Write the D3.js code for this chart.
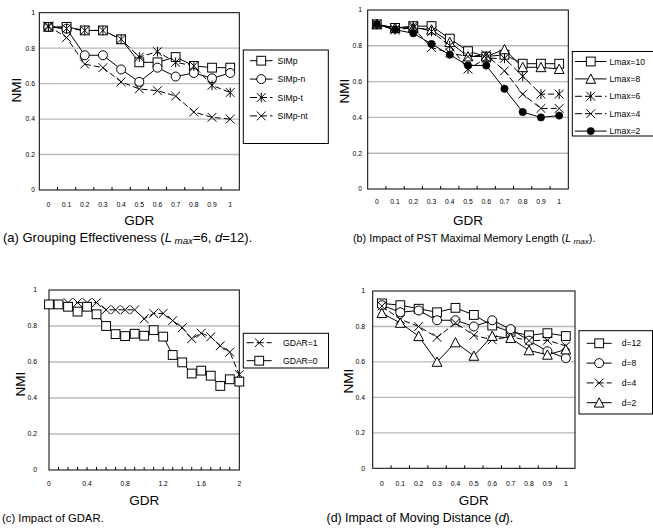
<!DOCTYPE html>
<html><head><meta charset="utf-8">
<script src="https://cdn.jsdelivr.net/npm/d3@7"></script>
<style>body{margin:0;background:#fff}svg{display:block}</style>
</head><body>
<svg id="chart" width="653" height="531"></svg>
<script>
// ---------- DATA ----------
const gdrCats = ["0","0.1","0.2","0.3","0.4","0.5","0.6","0.7","0.8","0.9","1"];
const gdrC = [0,0.1,0.2,0.3,0.4,0.5,0.6,0.7,0.8,0.9,1.0,1.1,1.2,1.3,1.4,1.5,1.6,1.7,1.8,1.9,2.0];
const gdrCTickLabels = ["0","0.4","0.8","1.2","1.6","2"];
const gdrCTickValues = [0,0.4,0.8,1.2,1.6,2];
const yTickValues = [0,0.2,0.4,0.6,0.8,1];
const yTickLabels = ["0","0.2","0.4","0.6","0.8","1"];

// (a)
const simpNames = ["SIMp","SIMp-n","SIMp-t","SIMp-nt"];
const simp   = [0.92,0.92,0.90,0.90,0.85,0.72,0.72,0.75,0.70,0.69,0.69];
const simpN  = [0.92,0.91,0.76,0.76,0.68,0.61,0.69,0.64,0.66,0.63,0.66];
const simpT  = [0.92,0.91,0.90,0.90,0.85,0.75,0.78,0.72,0.70,0.59,0.55];
const simpNT = [0.925,0.86,0.71,0.69,0.61,0.57,0.56,0.53,0.44,0.41,0.40];
// (b)
const lmaxNames = ["Lmax=10","Lmax=8","Lmax=6","Lmax=4","Lmax=2"];
const lmax10 = [0.92,0.90,0.91,0.91,0.84,0.77,0.74,0.75,0.70,0.70,0.70];
const lmax8  = [0.92,0.90,0.90,0.89,0.82,0.74,0.74,0.78,0.68,0.68,0.67];
const lmax6  = [0.92,0.89,0.91,0.88,0.80,0.67,0.73,0.73,0.63,0.53,0.53];
const lmax4  = [0.92,0.89,0.90,0.79,0.76,0.74,0.75,0.66,0.53,0.45,0.45];
const lmax2  = [0.92,0.89,0.87,0.81,0.75,0.69,0.69,0.56,0.43,0.40,0.41];
// (c)
const gdarNames = ["GDAR=1","GDAR=0"];
const gdar1 = [0.92,0.92,0.93,0.93,0.93,0.93,0.89,0.89,0.89,0.89,0.84,0.87,0.87,0.83,0.79,0.73,0.76,0.74,0.69,0.655,0.53];
const gdar0 = [0.92,0.92,0.907,0.88,0.907,0.865,0.80,0.755,0.744,0.757,0.746,0.777,0.741,0.639,0.598,0.536,0.552,0.524,0.467,0.504,0.491];
// (d)
const dNames = ["d=12","d=8","d=4","d=2"];
const d12 = [0.93,0.92,0.90,0.88,0.905,0.865,0.805,0.77,0.75,0.762,0.746];
const d8  = [0.92,0.88,0.89,0.835,0.835,0.80,0.835,0.785,0.72,0.66,0.622];
const d4  = [0.915,0.84,0.80,0.738,0.82,0.75,0.725,0.742,0.72,0.722,0.69];
const d2  = [0.875,0.82,0.745,0.60,0.71,0.634,0.746,0.734,0.665,0.64,0.67];

// ---------- DRAWING ----------
const FONT = "'Liberation Sans', Arial, Helvetica, sans-serif";
const svg = d3.select("#chart");
const DASH = "6,3";

function drawMarker(g, type, cx, cy) {
  const s = 4.4;
  if (type === "square") {
    g.append("rect").attr("x", cx - s).attr("y", cy - s).attr("width", 2*s).attr("height", 2*s)
      .attr("fill", "#fff").attr("stroke", "#000").attr("stroke-width", 1);
  } else if (type === "circle") {
    g.append("circle").attr("cx", cx).attr("cy", cy).attr("r", 4.5)
      .attr("fill", "#fff").attr("stroke", "#000").attr("stroke-width", 1);
  } else if (type === "dot") {
    g.append("circle").attr("cx", cx).attr("cy", cy).attr("r", 3.7)
      .attr("fill", "#000").attr("stroke", "#000").attr("stroke-width", 0.5);
  } else if (type === "triangle") {
    g.append("path").attr("d", `M${cx},${cy - s - 0.5}L${cx + s + 0.5},${cy + s}L${cx - s - 0.5},${cy + s}Z`)
      .attr("fill", "#fff").attr("stroke", "#000").attr("stroke-width", 1);
  } else if (type === "x") {
    g.append("path").attr("d", `M${cx - s},${cy - s}L${cx + s},${cy + s}M${cx - s},${cy + s}L${cx + s},${cy - s}`)
      .attr("fill", "none").attr("stroke", "#000").attr("stroke-width", 1);
  } else if (type === "star") {
    g.append("path").attr("d", `M${cx - s},${cy - s}L${cx + s},${cy + s}M${cx - s},${cy + s}L${cx + s},${cy - s}M${cx},${cy - s - 0.5}L${cx},${cy + s + 0.5}`)
      .attr("fill", "none").attr("stroke", "#000").attr("stroke-width", 1);
  }
}

function drawPanel(cfg) {
  const g = svg.append("g");
  const y = d3.scaleLinear().domain([0, 1]).range([cfg.bottom, cfg.top]);
  let xPos, xScale;
  if (cfg.cats) {
    xScale = d3.scaleBand().domain(cfg.cats).range([cfg.left, cfg.right]).padding(0);
    xPos = (i) => xScale(cfg.cats[i]) + xScale.bandwidth() / 2;
  } else {
    xScale = d3.scaleLinear().domain(cfg.xDomain).range([cfg.left, cfg.right]);
    xPos = (i) => xScale(cfg.xValues[i]);
  }
  // gridlines
  g.selectAll("line.grid").data(yTickValues.filter(v => v > 0 && v < 1)).enter().append("line")
    .attr("x1", cfg.left).attr("x2", cfg.right).attr("y1", d => y(d)).attr("y2", d => y(d))
    .attr("stroke", "#b8b8b8").attr("stroke-width", 1.4);
  // frame
  g.append("rect").attr("x", cfg.left).attr("y", cfg.top)
    .attr("width", cfg.right - cfg.left).attr("height", cfg.bottom - cfg.top)
    .attr("fill", "none").attr("stroke", "#000").attr("stroke-width", 1);
  // y labels
  g.selectAll("text.yl").data(yTickValues).enter().append("text")
    .attr("x", cfg.yLabelRight).attr("y", d => y(d)).attr("dy", "0.35em")
    .attr("text-anchor", "end").attr("font-family", FONT).attr("font-size", 6.8)
    .text((d, i) => yTickLabels[i]);
  // x ticks and labels
  let tickXs, labels;
  if (cfg.cats) {
    tickXs = cfg.cats.slice(1).map(c => xScale(c));
    labels = cfg.cats.map((c, i) => ({x: xPos(i), t: c}));
  } else {
    tickXs = d3.range(1, 20).map(i => xScale(i / 10));
    labels = gdrCTickValues.map((v, i) => ({x: xScale(v), t: gdrCTickLabels[i]}));
  }
  g.selectAll("line.xt").data(tickXs).enter().append("line")
    .attr("x1", d => d).attr("x2", d => d).attr("y1", cfg.bottom).attr("y2", cfg.bottom - 3)
    .attr("stroke", "#000").attr("stroke-width", 1);
  g.selectAll("text.xl").data(labels).enter().append("text")
    .attr("x", d => d.x).attr("y", cfg.xLabelBase).attr("text-anchor", "middle")
    .attr("font-family", FONT).attr("font-size", 6.8).text(d => d.t);
  // axis titles
  g.append("text").attr("x", (cfg.left + cfg.right) / 2 + (cfg.gdrDx || 0)).attr("y", cfg.gdrY)
    .attr("text-anchor", "middle").attr("font-family", FONT).attr("font-size", 13.5).text("GDR");
  g.append("text").attr("transform", `translate(${cfg.nmiX},${cfg.nmiY}) rotate(-90)`)
    .attr("text-anchor", "middle").attr("font-family", FONT).attr("font-size", 13.5).text("NMI");
  // lines
  const line = d3.line().x((d, i) => xPos(i)).y(d => y(d));
  cfg.series.forEach(s => {
    g.append("path").attr("d", line(s.values)).attr("fill", "none")
      .attr("stroke", "#000").attr("stroke-width", 1)
      .attr("stroke-dasharray", s.dash ? DASH : null);
  });
  cfg.series.forEach(s => {
    s.values.forEach((v, i) => drawMarker(g, s.marker, xPos(i), y(v)));
  });
  // legend
  const L = cfg.legend;
  g.append("rect").attr("x", L.x0).attr("y", L.y0).attr("width", L.x1 - L.x0).attr("height", L.y1 - L.y0)
    .attr("fill", "#fff").attr("stroke", "#000").attr("stroke-width", 1);
  cfg.series.forEach((s, i) => {
    const ly = L.first + i * L.step;
    g.append("line").attr("x1", L.lx0).attr("x2", L.lx1).attr("y1", ly).attr("y2", ly)
      .attr("stroke", "#000").attr("stroke-width", 1)
      .attr("stroke-dasharray", s.dash ? "7,3" : null);
    drawMarker(g, s.marker, (L.lx0 + L.lx1) / 2, ly);
    g.append("text").attr("x", L.tx).attr("y", ly).attr("dy", "0.35em")
      .attr("font-family", FONT).attr("font-size", 8.6).text(s.name);
  });
  // caption
  const fs = cfg.capFs;
  const cap = g.append("text").attr("x", cfg.capX).attr("y", cfg.capY)
    .attr("font-family", FONT).attr("font-size", fs);
  cfg.caption.forEach(p => {
    const t = cap.append("tspan").text(p.t);
    if (p.i) t.attr("font-style", "italic");
    if (p.sub) t.attr("font-size", fs * 0.75).attr("dy", 2);
    if (p.up) t.attr("dy", -2);
  });
}

drawPanel({
  left: 39.3, right: 239.3, top: 12.7, bottom: 190, cats: gdrCats,
  yLabelRight: 35, xLabelBase: 207, gdrY: 225, nmiX: 20.5, nmiY: 90,
  series: [
    {name: simpNames[0], values: simp, marker: "square", dash: false},
    {name: simpNames[1], values: simpN, marker: "circle", dash: false},
    {name: simpNames[2], values: simpT, marker: "star", dash: true},
    {name: simpNames[3], values: simpNT, marker: "x", dash: true}
  ],
  legend: {x0: 243.3, x1: 328.3, y0: 50, y1: 143.5, first: 60.7, step: 18.4, lx0: 250, lx1: 272.5, tx: 277.5},
  capX: 3, capY: 242, capFs: 13,
  caption: [{t: "(a) Grouping Effectiveness ("}, {t: "L", i: true}, {t: " max", i: true, sub: true}, {t: "=6, ", up: true}, {t: "d", i: true}, {t: "=12)."}]
});

drawPanel({
  left: 367.7, right: 568.3, top: 10, bottom: 189, cats: gdrCats,
  yLabelRight: 362, xLabelBase: 204, gdrY: 224.5, nmiX: 349, nmiY: 91,
  series: [
    {name: lmaxNames[0], values: lmax10, marker: "square", dash: false},
    {name: lmaxNames[1], values: lmax8, marker: "triangle", dash: false},
    {name: lmaxNames[2], values: lmax6, marker: "star", dash: true},
    {name: lmaxNames[3], values: lmax4, marker: "x", dash: true},
    {name: lmaxNames[4], values: lmax2, marker: "dot", dash: false}
  ],
  legend: {x0: 572.3, x1: 660, y0: 51.5, y1: 136, first: 61.5, step: 17.4, lx0: 575, lx1: 606.5, tx: 609.5},
  capX: 353, capY: 242, capFs: 10.8,
  caption: [{t: "(b) Impact of PST Maximal Memory Length ("}, {t: "L", i: true}, {t: " max", i: true, sub: true}, {t: ")", up: true}, {t: "."}]
});

drawPanel({
  left: 49, right: 239.3, top: 290, bottom: 470, xDomain: [0, 2], xValues: gdrC,
  yLabelRight: 37, xLabelBase: 486, gdrY: 505, nmiX: 25, nmiY: 384,
  series: [
    {name: gdarNames[0], values: gdar1, marker: "x", dash: true},
    {name: gdarNames[1], values: gdar0, marker: "square", dash: false}
  ],
  legend: {x0: 243.3, x1: 328.5, y0: 333.3, y1: 368, first: 342.7, step: 18, lx0: 246.7, lx1: 271.7, tx: 283},
  capX: 2, capY: 522, capFs: 11.3,
  caption: [{t: "(c) Impact of GDAR."}]
});

drawPanel({
  left: 372.7, right: 575, top: 291, bottom: 468.3, cats: gdrCats,
  yLabelRight: 365, xLabelBase: 485.5, gdrY: 505, nmiX: 353, nmiY: 381,
  series: [
    {name: dNames[0], values: d12, marker: "square", dash: false},
    {name: dNames[1], values: d8, marker: "circle", dash: false},
    {name: dNames[2], values: d4, marker: "x", dash: true},
    {name: dNames[3], values: d2, marker: "triangle", dash: false}
  ],
  legend: {x0: 579, x1: 652.5, y0: 330.7, y1: 414, first: 343.3, step: 19.8, lx0: 586.7, lx1: 611.7, tx: 621.7},
  capX: 326.5, capY: 522, capFs: 12.4,
  caption: [{t: "(d) Impact of Moving Distance ("}, {t: "d", i: true}, {t: ")."}]
});
</script>
</body></html>
